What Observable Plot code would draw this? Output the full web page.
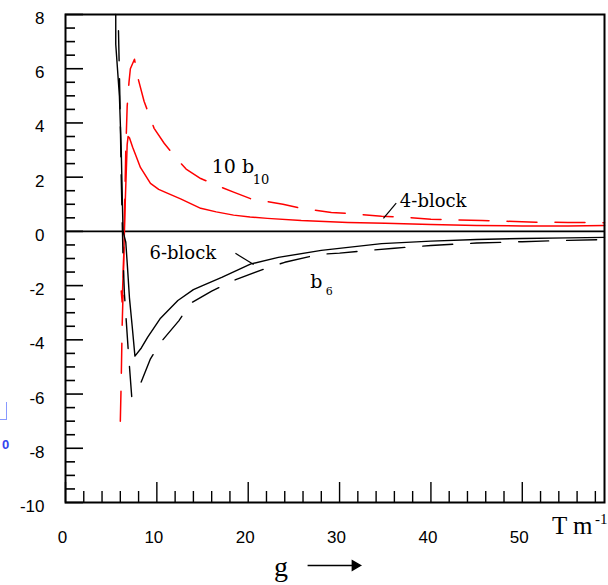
<!DOCTYPE html>
<html><head><meta charset="utf-8">
<script src="https://cdn.jsdelivr.net/npm/d3@7"></script>
<script src="https://cdn.jsdelivr.net/npm/@observablehq/plot@0.6"></script>
<style>
body{margin:0;background:#fff;}
#wrap{position:relative;width:608px;height:585px;overflow:hidden;}
#wrap svg{position:absolute;left:0;top:0;}
.blue0{position:absolute;left:2px;top:437px;font:bold 13px 'Liberation Sans',sans-serif;color:#3344ee;}
.bluebr{position:absolute;left:-1px;top:402px;width:7px;height:17px;border-right:1px solid #8899ff;border-bottom:1px solid #8899ff;}
</style></head><body><div id="wrap"></div>
<script>
// ---- data ----
// red solid (10 b10, 4-block)
const redSolidG = [6.1, 6.2, 6.35, 6.55, 6.75, 6.85, 7.0, 7.35, 7.7, 8.2, 9.3, 10.2, 11.2, 12.6, 14.8, 16.5, 18.4, 20.2, 22.1, 25.8, 30.9, 35, 40, 45, 50, 55, 59];
const redSolidV = [-2.2, -2.6, -1.2, 1.2, 3.2, 3.5, 3.45, 3.1, 2.8, 2.36, 1.77, 1.55, 1.4, 1.2, 0.85, 0.72, 0.6, 0.53, 0.48, 0.4, 0.33, 0.3, 0.25, 0.22, 0.2, 0.2, 0.22];
// red dashed (10 b10)
const redDashG = [6.0, 6.1, 6.2, 6.3, 6.45, 6.6, 6.75, 6.95, 7.1, 7.55, 7.9, 8.6, 9.7, 10.8, 12.0, 13.2, 14.8, 16.5, 18.4, 20.3, 23.8, 25.8, 29.1, 31, 34.6, 37, 40, 45.6, 51.5, 55, 59];
const redDashV = [-7.0, -5.5, -3.5, -2.3, 0.5, 3.0, 4.6, 5.5, 6.0, 6.35, 5.7, 4.8, 3.8, 3.25, 2.75, 2.3, 1.95, 1.7, 1.45, 1.2, 1.0, 0.85, 0.7, 0.66, 0.56, 0.52, 0.45, 0.4, 0.34, 0.33, 0.32];
// black solid (b6, 6-block)
const blackSolidG = [5.5, 5.5, 5.9, 6.1, 6.3, 6.6, 6.8, 7.0, 7.3, 7.6, 8.3, 9.0, 10.4, 12.3, 14.0, 15.0, 17.1, 20.3, 23.3, 28, 34.6, 40, 45, 50, 55, 59];
const blackSolidV = [8.0, 6.9, 5.0, 3.0, 0.0, -0.4, -1.4, -2.45, -3.5, -4.6, -4.3, -3.9, -3.2, -2.55, -2.15, -2.0, -1.7, -1.2, -0.96, -0.7, -0.45, -0.36, -0.3, -0.26, -0.24, -0.22];
// black dashed (b6)
const blackDashG = [5.8, 5.95, 6.1, 6.3, 6.45, 6.65, 6.85, 7.05, 7.25, 8.0, 9.3, 10.4, 12.4, 13.7, 16, 18.5, 22.2, 24, 27.7, 30, 33.2, 36, 40, 45, 50, 55, 59];
const blackDashV = [7.4, 5.0, 2.0, -1.0, -2.3, -3.3, -4.3, -5.2, -6.1, -5.8, -4.7, -4.1, -3.3, -2.65, -2.2, -1.8, -1.33, -1.14, -0.85, -0.8, -0.7, -0.62, -0.52, -0.43, -0.38, -0.33, -0.3];

// axis ticks
const yMajor = [-10, -8, -6, -4, -2, 0, 2, 4, 6, 8];
const yMinor = d3.range(-10, 8.01, 0.5).filter(v => !yMajor.includes(v));
const xMajor = [0, 10, 20, 30, 40, 50];
const xMinor = d3.range(2, 59, 2).filter(v => v % 10 !== 0);

// annotation texts
const annTexts = ["10 b", "10", "4-block", "6-block", "b", "6"];
const annG = [16.0, 20.5, 36.6, 9.2, 26.8, 28.5];
const annV = [2.37, 1.9, 1.13, -0.8, -1.85, -2.22];
const annSize = [19, 13, 18, 18, 19, 11];
const leaderG1 = [36.2, 18.6];
const leaderV1 = [1.04, -0.81];
const leaderG2 = [34.8, 20.6];
const leaderV2 = [0.48, -1.22];

// ---- layout ----
const W = 608, H = 585, mL = 65, mT = 14, mR = 4, mB = 83;
const fw = W - mL - mR, fh = H - mT - mB;
const zip = (g, v) => g.map((x, i) => ({g: x, v: v[i]}));
const serif = "'DejaVu Serif', 'Liberation Serif', serif";
const times = "'Liberation Serif', 'Times New Roman', serif";
const ann = annTexts.map((t, i) => ({t, g: annG[i], v: annV[i], s: annSize[i]}));
const fmt = d => String(d);

const plot = Plot.plot({
  width: W, height: H,
  marginLeft: mL, marginTop: mT, marginRight: mR, marginBottom: mB,
  x: {domain: [0, 59]},
  y: {domain: [-10, 8]},
  style: {background: "white", fontFamily: "'Liberation Sans', Arial, sans-serif", color: "black"},
  marks: [
    Plot.axisY(yMajor, {tickSize: 0, tickPadding: 21, fontSize: 17, dy: 4, label: null, tickFormat: fmt}),
    Plot.axisX(xMajor, {tickSize: 0, tickPadding: 28, fontSize: 17, dx: -3, label: null, tickFormat: fmt}),
    Plot.tickY(yMajor, {y: d => d, insetRight: fw - 18, stroke: "black", strokeWidth: 1.6}),
    Plot.tickY(yMinor, {y: d => d, insetRight: fw - 10, stroke: "black", strokeWidth: 1.6}),
    Plot.tickX(xMajor, {x: d => d, insetTop: fh - 20, stroke: "black", strokeWidth: 1.4}),
    Plot.tickX(xMinor, {x: d => d, insetTop: fh - 11, stroke: "black", strokeWidth: 1.4}),
    Plot.ruleY([0], {stroke: "black", strokeWidth: 1.6}),
    Plot.line(zip(redDashG, redDashV), {x: "g", y: "v", stroke: "#ff0000", strokeWidth: 1.5, strokeDasharray: "30,18"}),
    Plot.line(zip(redSolidG, redSolidV), {x: "g", y: "v", stroke: "#ff0000", strokeWidth: 1.5}),
    Plot.line(zip(blackDashG, blackDashV), {x: "g", y: "v", stroke: "black", strokeWidth: 1.4, strokeDasharray: "30,18"}),
    Plot.line(zip(blackSolidG, blackSolidV), {x: "g", y: "v", stroke: "black", strokeWidth: 1.4}),
    Plot.link(leaderG1.map((x, i) => ({x1: x, y1: leaderV1[i], x2: leaderG2[i], y2: leaderV2[i]})), {x1: "x1", y1: "y1", x2: "x2", y2: "y2", stroke: "black", strokeWidth: 1.2}),
    Plot.text(ann, {x: "g", y: "v", text: "t", fontSize: "s", textAnchor: "start", fontFamily: serif, fill: "black"}),
    Plot.text(["T m"], {frameAnchor: "bottom-right", dx: -12, dy: 31, textAnchor: "end", fontFamily: times, fontSize: 25, fill: "black"}),
    Plot.text(["-1"], {frameAnchor: "bottom-right", dx: 3, dy: 21, textAnchor: "end", fontFamily: times, fontSize: 15, fill: "black"}),
    Plot.text(["g"], {frameAnchor: "bottom", dx: -54, dy: 73, fontFamily: times, fontSize: 28, fill: "black"}),
    Plot.link([{x1: 26.5, x2: 31.7, y: -12.32}], {x1: "x1", x2: "x2", y1: "y", y2: "y", stroke: "black", strokeWidth: 1.5}),
    Plot.dot([{x: 31.7, y: -12.32}], {x: "x", y: "y", symbol: "triangle", rotate: 90, r: 3.5, fill: "black", stroke: "black"}),
    Plot.frame({stroke: "black", strokeWidth: 2})
  ]
});
const wrap = document.getElementById("wrap");
wrap.appendChild(plot);
const b0 = document.createElement("div"); b0.className = "blue0"; b0.textContent = "0"; wrap.appendChild(b0);
const bb = document.createElement("div"); bb.className = "bluebr"; wrap.appendChild(bb);
</script>
</body></html>
